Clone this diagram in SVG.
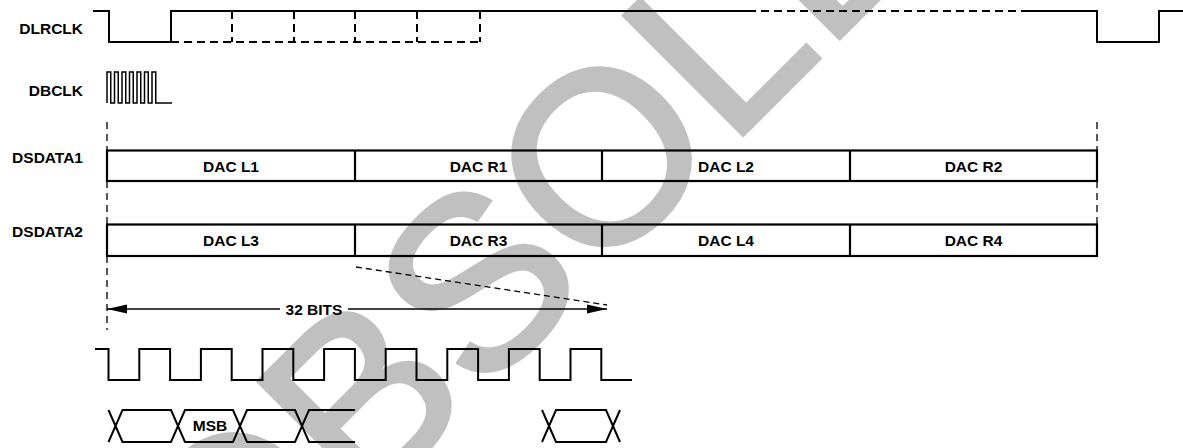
<svg xmlns="http://www.w3.org/2000/svg" width="1183" height="448" viewBox="0 0 1183 448">
<style>
.lbl{font-family:"Liberation Sans",Arial,sans-serif;font-weight:bold;font-size:15.5px;fill:#000}
.w{fill:none;stroke:#000;stroke-width:2}
.d{fill:none;stroke:#000;stroke-width:2;stroke-dasharray:8 5}
.g{fill:none;stroke:#000;stroke-width:1.3;stroke-dasharray:7 5}
.box{fill:none;stroke:#000;stroke-width:2.2}
.wm{font-family:"Liberation Sans",Arial,sans-serif;font-size:245px;fill:#c0c0c0;stroke:#c0c0c0;stroke-width:4;stroke-linejoin:miter}
</style>
<defs>
<marker id="ah" viewBox="0 0 20 10" refX="20" refY="5" markerWidth="20" markerHeight="10" markerUnits="userSpaceOnUse" orient="auto-start-reverse">
<path d="M0,0.5 L20,5 L0,9.5 Z" fill="#000"/>
</marker>
</defs>
<rect width="1183" height="448" fill="#fff"/>
<text class="wm" transform="translate(228.5,649.5) rotate(-45)">OBSOLETE</text>

<g id="dlrclk">
<text class="lbl" x="83" y="34" text-anchor="end">DLRCLK</text>
<path class="w" d="M93,11 H109 V42 H171 V11 H748 M1023,11 H1097 V42 H1159 V11 H1183"/>
<path class="d" d="M748,11 H1023"/>
<path class="d" d="M171,42 H480 M232,11 V42 M294,11 V42 M355,11 V42 M417,11 V42 M480,11 V42"/>
</g>

<g id="dbclk">
<text class="lbl" x="83" y="96" text-anchor="end">DBCLK</text>
<path fill="none" stroke="#000" stroke-width="1.5" d="M107,103 V72 H110.75 V103 H114.5 V72 H118.25 V103 H122 V72 H125.75 V103 H129.5 V72 H133.25 V103 H137 V72 H140.75 V103 H144.5 V72 H148.25 V103 H152 V72 H155.75 V103 H172"/>
</g>

<g id="guides">
<path class="g" d="M107,122 V150 M107,181 V224 M107,256 V330 M1097,122 V150 M1097,181 V224"/>
</g>

<g id="dsdata1">
<text class="lbl" x="83" y="163" text-anchor="end">DSDATA1</text>
<rect class="box" x="107" y="150.5" width="990" height="30.5"/>
<path class="box" d="M355,150.5 V181 M602,150.5 V181 M850,150.5 V181"/>
<text class="lbl" x="231" y="172" text-anchor="middle">DAC L1</text>
<text class="lbl" x="478.5" y="172" text-anchor="middle">DAC R1</text>
<text class="lbl" x="726" y="172" text-anchor="middle">DAC L2</text>
<text class="lbl" x="973.5" y="172" text-anchor="middle">DAC R2</text>
</g>

<g id="dsdata2">
<text class="lbl" x="83" y="237" text-anchor="end">DSDATA2</text>
<rect class="box" x="107" y="224.5" width="990" height="31.5"/>
<path class="box" d="M355,224.5 V256 M602,224.5 V256 M850,224.5 V256"/>
<text class="lbl" x="231" y="246" text-anchor="middle">DAC L3</text>
<text class="lbl" x="478.5" y="246" text-anchor="middle">DAC R3</text>
<text class="lbl" x="726" y="246" text-anchor="middle">DAC L4</text>
<text class="lbl" x="973.5" y="246" text-anchor="middle">DAC R4</text>
</g>

<g id="connectors">
<path fill="none" stroke="#000" stroke-width="1.5" d="M280,309 H107" marker-end="url(#ah)"/>
<path fill="none" stroke="#000" stroke-width="1.5" d="M348,309 H607" marker-end="url(#ah)"/>
<path fill="none" stroke="#000" stroke-width="1.3" stroke-dasharray="6 4" d="M356,267 L607,305"/>
</g>
<g id="bits-label">
<text class="lbl" x="314" y="315" text-anchor="middle">32 BITS</text>
</g>

<g id="bclk-detail">
<path class="w" d="M95,349 H108.5 V380 H139.3 V349 H170.1 V380 H200.9 V349 H231.7 V380 H262.5 V349 H293.3 V380 H324.1 V349 H354.9 V380 H385.7 V349 H416.5 V380 H447.3 V349 H478.1 V380 H508.9 V349 H539.7 V380 H570.5 V349 H601.3 V380 H632"/>
</g>

<g id="data-detail">
<path class="w" d="M108.5,410 L122.5,442 H171 L185,410 H233 L247,442 H295 L309,410 H355 M108.5,442 L122.5,410 H171 L185,442 H233 L247,410 H295 L309,442 H355"/>
<path class="w" d="M542,410 L556,442 H606 L620,410 M542,442 L556,410 H606 L620,442"/>
<text class="lbl" x="210" y="431" text-anchor="middle">MSB</text>
</g>
</svg>
